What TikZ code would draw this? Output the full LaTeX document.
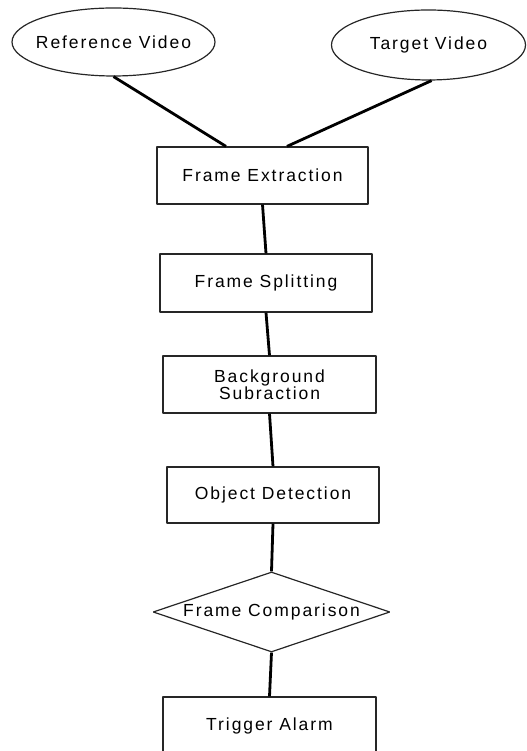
\documentclass[tikz,border=0pt]{standalone}
\usepackage{fontspec}
\setmainfont[LetterSpace=11]{Liberation Sans}
\usepackage{tikz}
\usetikzlibrary{shapes, positioning, calc}

\begin{document}
\begin{tikzpicture}[line join=bevel,
    procbox/.style={draw=black!85, line width=1.2bp, rectangle, inner sep=0pt,
      align=center, font=\fontsize{17.5bp}{17bp}\selectfont},
    source/.style={draw=black!85, line width=1.2bp, ellipse, inner xsep=-12bp,
      inner ysep=0pt, font=\fontsize{17.5bp}{17bp}\selectfont},
    check/.style={draw=black!85, line width=1.2bp, diamond, inner sep=0pt,
      shape aspect=2.96, font=\fontsize{17.5bp}{17bp}\selectfont},
    link/.style={line width=2.8bp}]
  \useasboundingbox (0bp,0bp) rectangle (527bp,751bp);
%%
  % Node: refvid
  \node [source, minimum width=203bp, minimum height=68bp] (refvid) at (113.5bp,709bp) {Reference Video};
  % Node: tgtvid
  \node [source, minimum width=194bp, minimum height=70bp] (tgtvid) at (428.5bp,706bp) {Target Video};
  % Node: extract
  \node [procbox, minimum width=211bp, minimum height=57bp] (extract) at (262.5bp,575.5bp) {Frame Extraction};
  % Node: split
  \node [procbox, minimum width=212bp, minimum height=58bp] (split) at (266bp,468bp) {Frame Splitting};
  % Node: bgsub
  \node [procbox, minimum width=213bp, minimum height=57bp] (bgsub) at (269.5bp,366.5bp) {Background\\Subraction};
  % Node: objdet
  \node [procbox, minimum width=212bp, minimum height=56bp] (objdet) at (273bp,256bp) {Object Detection};
  % Node: compare
  \node [check, minimum width=237bp, minimum height=80bp] (compare) at (271.5bp,139bp) {Frame Comparison};
  % Node: alarm
  \node [procbox, minimum width=213bp, minimum height=57bp] (alarm) at (269.5bp,25.5bp) {Trigger Alarm};
%%
  % Edge: refvid -- extract
  \draw [link] (refvid.south) -- ($(extract.north)+(-36.5bp,0)$);
  % Edge: tgtvid -- extract
  \draw [link] (tgtvid.-85) -- ($(extract.north)+(24.5bp,0)$);
  % Edge: extract -- split
  \draw [link] (extract.south) -- (split.north);
  % Edge: split -- bgsub
  \draw [link] (split.south) -- (bgsub.north);
  % Edge: bgsub -- objdet
  \draw [link] (bgsub.south) -- (objdet.north);
  % Edge: objdet -- compare
  \draw [link] (objdet.south) -- (compare.north);
  % Edge: compare -- alarm
  \draw [link] (compare.south) -- (alarm.north);
%
\end{tikzpicture}
\end{document}
